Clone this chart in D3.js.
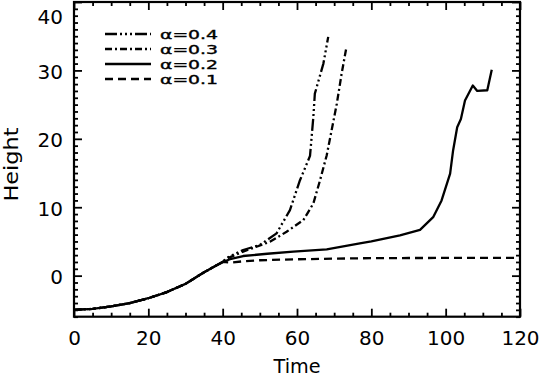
<!DOCTYPE html>
<html><head><meta charset="utf-8">
<script src="https://cdn.jsdelivr.net/npm/d3@7"></script>
<style>body{margin:0;background:#fff}svg{display:block}text{font-family:"DejaVu Sans",sans-serif;fill:#000}</style>
</head><body><svg id="c" width="541" height="379"></svg>
<script>
const xTicks = [0, 20, 40, 60, 80, 100, 120];
const yTicks = [0, 10, 20, 30, 40];
const seriesNames = ["α=0.4", "α=0.3", "α=0.2", "α=0.1"];
const commonT = [0, 5, 10, 15, 20, 25, 30, 35, 40];
const commonH = [-5.0, -4.85, -4.5, -4.0, -3.3, -2.4, -1.2, 0.5, 2.0];
const t04 = [41.1, 45.5, 50.0, 54.5, 58.1, 60.8, 63.5, 64.4, 64.8, 67.1, 68.4];
const h04 = [2.6, 3.75, 4.48, 6.18, 9.58, 13.95, 17.5, 23.2, 26.6, 31.0, 34.9];
const t03 = [41.1, 45.5, 52.7, 57.2, 61.7, 64.4, 66.2, 68.0, 69.3, 70.7, 72.0, 73.2];
const h03 = [2.5, 3.5, 4.96, 6.41, 8.12, 10.55, 13.95, 17.6, 21.2, 25.1, 29.5, 33.1];
const t02 = [42, 45.5, 52, 59.0, 68.0, 76.9, 80, 87.7, 93.1, 96.7, 98.9, 101.2, 102, 103.1, 104.1, 105.2, 107.3, 108.5, 111.2, 112.4];
const h02 = [2.4, 2.87, 3.2, 3.5, 3.85, 4.72, 5.0, 5.9, 6.7, 8.6, 11.0, 14.9, 18.3, 21.7, 22.9, 25.6, 27.8, 27.0, 27.1, 30.1];
const t01 = [42, 45.5, 50, 59.0, 76.9, 90, 120];
const h01 = [1.9, 2.1, 2.25, 2.39, 2.54, 2.58, 2.6];
const dashes = ["12,3,2,3,2,3,2,3", "7,3,2,3", null, "8,5"];

const L = 74, R = 520, T = 2, B = 316.7;
const x = d3.scaleLinear().domain([0, 120]).range([L, R]);
const y = d3.scaleLinear().domain([-6, 40]).range([B, T]);
const svg = d3.select("#c");

function mk(ts, hs) {
  const pts = commonT.map((t, i) => [t, commonH[i]]);
  ts.forEach((t, i) => pts.push([t, hs[i]]));
  return pts;
}
const data = [mk(t04, h04), mk(t03, h03), mk(t02, h02), mk(t01, h01)];
const line = d3.line().x(d => x(d[0])).y(d => y(d[1]));

svg.append("g").selectAll("path").data(data).join("path")
  .attr("d", line).attr("fill", "none").attr("stroke", "#000")
  .attr("stroke-width", 2.3).attr("stroke-linejoin", "round")
  .attr("stroke-dasharray", (d, i) => dashes[i]);

// axes
const axW = 2.2;
const xMinor = d3.range(0, 121, 5).filter(v => v % 20 !== 0);
const yMinor = d3.range(-6, 41, 1).filter(v => v % 10 !== 0);
svg.append("g").attr("transform", `translate(0,${B})`)
  .call(d3.axisBottom(x).tickValues(xTicks).tickSize(-8).tickPadding(14).tickFormat(d3.format("d")));
svg.append("g").attr("transform", `translate(0,${B})`)
  .call(d3.axisBottom(x).tickValues(xMinor).tickSize(-4).tickFormat(""));
svg.append("g").attr("transform", `translate(0,${T})`)
  .call(d3.axisTop(x).tickValues(xTicks).tickSize(-8).tickFormat(""));
svg.append("g").attr("transform", `translate(0,${T})`)
  .call(d3.axisTop(x).tickValues(xMinor).tickSize(-4).tickFormat(""));
const gL = svg.append("g").attr("transform", `translate(${L},0)`)
  .call(d3.axisLeft(y).tickValues(yTicks).tickSize(-8).tickPadding(11).tickFormat(d3.format("d")));
svg.append("g").attr("transform", `translate(${L},0)`)
  .call(d3.axisLeft(y).tickValues(yMinor).tickSize(-4).tickFormat(""));
svg.append("g").attr("transform", `translate(${R},0)`)
  .call(d3.axisRight(y).tickValues(yTicks).tickSize(-8).tickFormat(""));
svg.append("g").attr("transform", `translate(${R},0)`)
  .call(d3.axisRight(y).tickValues(yMinor).tickSize(-4).tickFormat(""));
svg.selectAll(".domain").remove();
svg.selectAll(".tick line").attr("stroke", "#000").attr("stroke-width", 1.8);
svg.selectAll(".tick text").attr("font-size", 20).attr("font-family", "DejaVu Sans");
gL.selectAll(".tick text").attr("dy", d => d === 40 ? "1.05em" : "0.4em");
svg.append("rect").attr("x", L).attr("y", T).attr("width", R - L).attr("height", B - T)
  .attr("fill", "none").attr("stroke", "#000").attr("stroke-width", axW);

svg.append("text").attr("x", (L + R) / 2).attr("y", 373).attr("text-anchor", "middle")
  .attr("font-size", 20).attr("textLength", 47).attr("lengthAdjust", "spacingAndGlyphs").text("Time");
svg.append("text").attr("transform", `translate(18,164.5) rotate(-90)`)
  .attr("text-anchor", "middle").attr("font-size", 20)
  .attr("textLength", 74).attr("lengthAdjust", "spacingAndGlyphs").text("Height");

// legend
const lg = svg.append("g");
const rows = [34, 49, 64, 79];
seriesNames.forEach((n, i) => {
  lg.append("line").attr("x1", 105).attr("x2", 151).attr("y1", rows[i]).attr("y2", rows[i])
    .attr("stroke", "#000").attr("stroke-width", 2.3).attr("stroke-dasharray", dashes[i]);
  lg.append("text").attr("x", 160).attr("y", rows[i] + 5).attr("font-size", 13)
    .attr("stroke", "#000").attr("stroke-width", 0.4)
    .attr("textLength", 58).attr("lengthAdjust", "spacingAndGlyphs").text(n);
});
</script></body></html>
